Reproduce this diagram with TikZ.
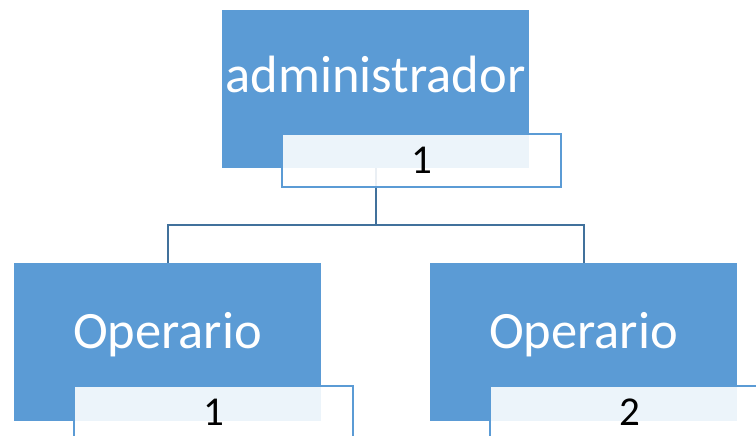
\documentclass[tikz,border=0pt]{standalone}
\usepackage{fontspec}
\setmainfont{Carlito}
\definecolor{BoxBlue}{RGB}{91,155,213}
\definecolor{LineBlue}{RGB}{65,113,156}
\usetikzlibrary{positioning}

\tikzset{
  mainbox/.style={rectangle, fill=BoxBlue, inner sep=0pt,
                  minimum width=307pt, minimum height=158pt},
  numbox/.style={rectangle, draw=BoxBlue, line width=1.5pt,
                 fill=white, fill opacity=0.89, text opacity=1,
                 inner sep=0pt, minimum width=279pt, minimum height=53pt,
                 font=\fontsize{41}{48}\selectfont},
  boxtext/.style={text=white, inner sep=0pt, anchor=base,
                  font=\fontsize{52.5}{60}\selectfont},
  conn/.style={draw=LineBlue, line width=2pt}
}

\begin{document}
\begin{tikzpicture}[x=1pt, y=-1pt]
      \useasboundingbox (0,0) rectangle (756,436);
      % boxes
      \node[mainbox] (admin) at (375.5,89) {};
      \node[boxtext] (admintext) at (375.5,93) {administrador};
      \foreach \n/\cx in {1/167.5, 2/583.5}{
        \node[mainbox] (op\n) at (\cx,342) {};
        \node[boxtext] (optext\n) at (\cx,348) {Operario};
      }
      % connectors
      \coordinate (bus) at (375.5,225);
      \draw[conn] (admin.south) -- (bus) -| (op1.north);
      \draw[conn] (bus) -| (op2.north);
      % number tags
      \node[numbox] (adminnum) at (421.5,160.5) {1};
      \foreach \n/\cx in {1/213.5, 2/629.5}{
        \node[numbox] (opnum\n) at (\cx,412.5) {\n};
      }
    \end{tikzpicture}
\end{document}
